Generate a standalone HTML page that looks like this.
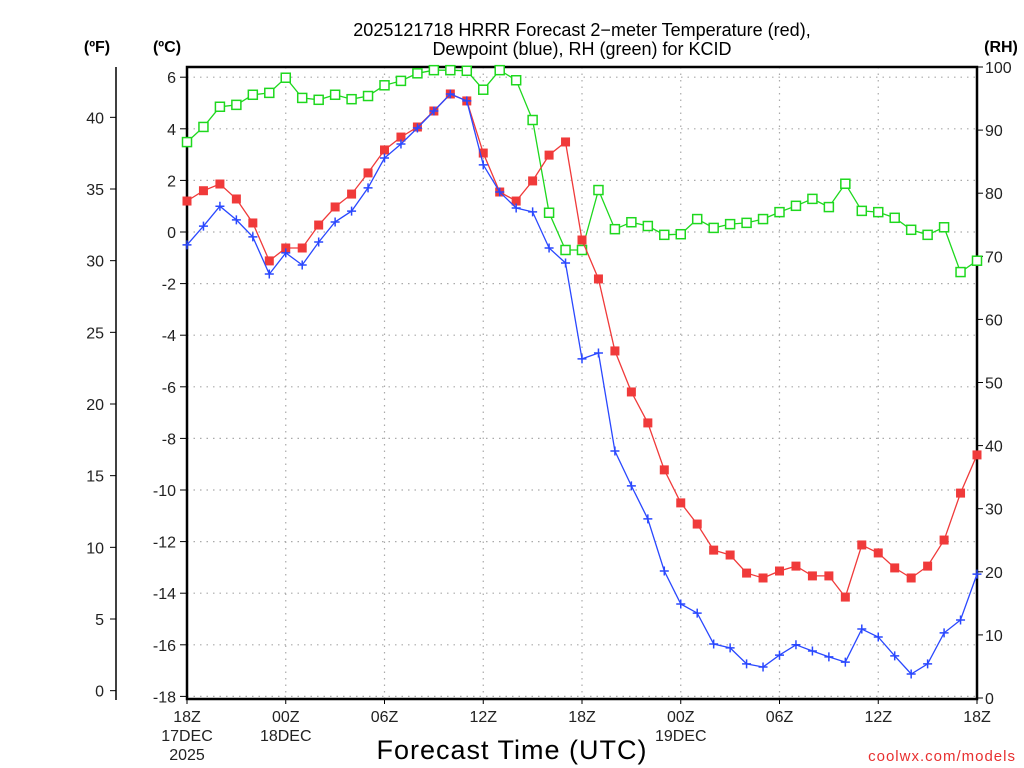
<!DOCTYPE html>
<html><head><meta charset="utf-8"><style>
html,body{margin:0;padding:0;background:#fff;}
svg{display:block;font-family:"Liberation Sans",sans-serif;}
</style></head><body>
<svg id="chart" width="1024" height="768" viewBox="0 0 1024 768" xmlns="http://www.w3.org/2000/svg">
<text x="582" y="36" font-size="18" text-anchor="middle" fill="#000">2025121718 HRRR Forecast 2−meter Temperature (red),</text>
<text x="582" y="55" font-size="18" text-anchor="middle" fill="#000">Dewpoint (blue), RH (green) for KCID</text>
<text x="97" y="52" font-size="16" font-weight="bold" text-anchor="middle">(ºF)</text>
<text x="167" y="52" font-size="16" font-weight="bold" text-anchor="middle">(ºC)</text>
<text x="1001" y="52" font-size="16" font-weight="bold" text-anchor="middle">(RH)</text>
<text x="512" y="759" font-size="27" text-anchor="middle" letter-spacing="1">Forecast Time (UTC)</text>
<text x="1016" y="761" font-size="15" text-anchor="end" fill="#e83030" letter-spacing="1">coolwx.com/models</text>
<g id="grid"></g><g id="axes"></g><g id="series"></g>
</svg>
<script>
const hours = [];for(let i=0;i<=48;i++)hours.push(i);
const tempC = [1.2,1.6,1.86,1.28,0.35,-1.12,-0.62,-0.62,0.27,0.97,1.47,2.29,3.18,3.68,4.07,4.69,5.35,5.08,3.06,1.55,1.2,1.98,2.98,3.49,-0.31,-1.82,-4.61,-6.2,-7.4,-9.22,-10.5,-11.32,-12.33,-12.52,-13.22,-13.41,-13.14,-12.95,-13.33,-13.33,-14.15,-12.13,-12.44,-13.02,-13.41,-12.95,-11.94,-10.12,-8.64];
const dewC = [-0.5,0.23,1.0,0.47,-0.19,-1.63,-0.81,-1.28,-0.39,0.39,0.81,1.71,2.87,3.41,4.03,4.69,5.35,5.08,2.6,1.55,0.93,0.78,-0.62,-1.2,-4.92,-4.69,-8.49,-9.84,-11.12,-13.14,-14.42,-14.77,-15.97,-16.12,-16.74,-16.86,-16.4,-16.0,-16.24,-16.47,-16.67,-15.39,-15.7,-16.43,-17.13,-16.74,-15.54,-15.04,-13.26];
const rh = [88.1,90.5,93.7,94.0,95.6,95.9,98.3,95.1,94.8,95.6,94.9,95.4,97.1,97.8,99.0,99.5,99.5,99.4,96.4,99.5,97.9,91.6,76.9,71.0,71.0,80.5,74.3,75.4,74.8,73.4,73.5,75.9,74.5,75.1,75.3,75.9,77.0,78.0,79.1,77.8,81.5,77.2,77.0,76.1,74.2,73.4,74.6,67.5,69.3];
const cTicks = [6,4,2,0,-2,-4,-6,-8,-10,-12,-14,-16,-18];
const fTicks = [40,35,30,25,20,15,10,5,0];
const rhTicks = [100,90,80,70,60,50,40,30,20,10,0];
const xTickHours = [0,6,12,18,24,30,36,42,48];
const xTickLabels = [["18Z","17DEC","2025"],["00Z","18DEC"],["06Z"],["12Z"],["18Z"],["00Z","19DEC"],["06Z"],["12Z"],["18Z"]];

const NS="http://www.w3.org/2000/svg";
const X0=187,X1=977,YT=67,YB=699;
const xS=h=>X0+(X1-X0)*h/48;
const cS=c=>232-25.8*c;
const fS=f=>cS((f-32)*5/9);
const rS=r=>698-6.31*r;
function mk(parent,tag,attrs){const e=document.createElementNS(NS,tag);for(const k in attrs)e.setAttribute(k,attrs[k]);parent.appendChild(e);return e;}
const grid=document.getElementById('grid'),axes=document.getElementById('axes'),ser=document.getElementById('series');

cTicks.forEach(c=>{
  const y=cS(c);
  const g=mk(grid,'line',{x1:X0,x2:X1,y1:y,y2:y,stroke:'#aaa','stroke-width':1.2,'stroke-dasharray':'1.5,5'});
  
  
  mk(axes,'line',{x1:X0-7,x2:X0,y1:y,y2:y,stroke:'#000','stroke-width':1});
  const t=mk(axes,'text',{x:X0-11,y:y+6,'font-size':16,'text-anchor':'end',fill:'#222'});
  t.textContent=c;
  
  
});
xTickHours.forEach((h,i)=>{
  const x=xS(h);
  if(h>0&&h<48){const g=mk(grid,'line',{x1:x,x2:x,y1:YT,y2:YB,stroke:'#aaa','stroke-width':1.2,'stroke-dasharray':'1.5,5'});
  
  }
  mk(axes,'line',{x1:x,x2:x,y1:YB,y2:YB+5,stroke:'#000','stroke-width':1});
  xTickLabels[i].forEach((s,j)=>{
    const t=mk(axes,'text',{x:x,y:722+j*19,'font-size':16,'text-anchor':'middle',fill:'#222'});
    t.textContent=s;
    
    
  });
});
// F axis
mk(axes,'line',{x1:116,x2:116,y1:67,y2:700,stroke:'#000','stroke-width':1.5});
fTicks.forEach(f=>{
  const y=fS(f);
  mk(axes,'line',{x1:110,x2:116,y1:y,y2:y,stroke:'#000','stroke-width':1});
  const t=mk(axes,'text',{x:104,y:y+6,'font-size':16,'text-anchor':'end',fill:'#222'});
  t.textContent=f;
  
  
});
// RH axis
rhTicks.forEach(r=>{
  const y=rS(r);
  mk(axes,'line',{x1:X1,x2:X1+6,y1:y,y2:y,stroke:'#000','stroke-width':1});
  const t=mk(axes,'text',{x:X1+8,y:y+6,'font-size':16,'text-anchor':'start',fill:'#222'});
  t.textContent=r;
  
  
});
const frame=mk(axes,'rect',{x:X0,y:YT,width:X1-X0,height:YB-YT,fill:'none',stroke:'#000','stroke-width':2.5});



function line(vals,scale,color,name){
  const pts=vals.map((v,i)=>xS(hours[i]).toFixed(1)+','+scale(v).toFixed(1)).join(' ');
  const p=mk(ser,'polyline',{points:pts,fill:'none',stroke:color,'stroke-width':1.3});
  
  
}
line(rh,rS,'#1ed81e','rh-line');
rh.forEach((v,i)=>{
  const m=mk(ser,'rect',{x:xS(hours[i])-4.5,y:rS(v)-4.5,width:9,height:9,fill:'#fff',stroke:'#1ed81e','stroke-width':1.5});
  
  
});
line(tempC,cS,'#f03a3a','temperature-line');
tempC.forEach((v,i)=>{
  const m=mk(ser,'rect',{x:xS(hours[i])-4.5,y:cS(v)-4.5,width:9,height:9,fill:'#f03a3a'});
  
  
});
line(dewC,cS,'#2a48ff','dewpoint-line');
dewC.forEach((v,i)=>{
  const x=xS(hours[i]),y=cS(v);
  const m=mk(ser,'path',{d:`M${x-4.5},${y}H${x+4.5}M${x},${y-4.5}V${y+4.5}`,stroke:'#2a48ff','stroke-width':1.5,fill:'none'});
  
  
});
</script>
</body></html>
